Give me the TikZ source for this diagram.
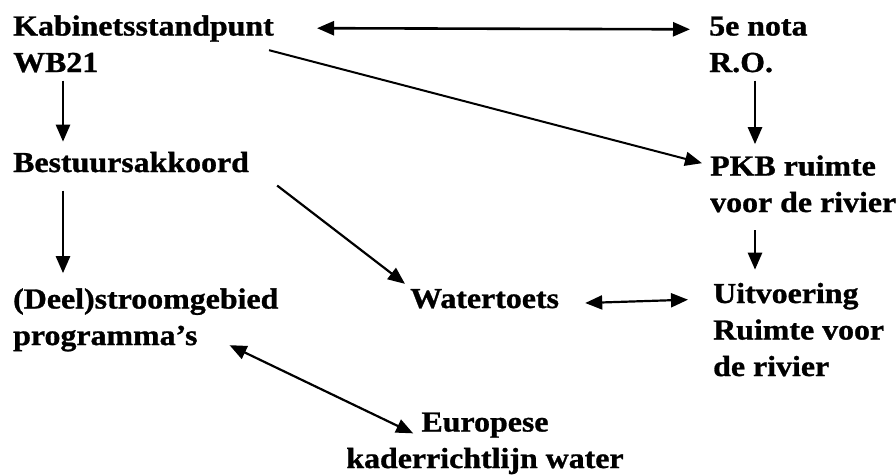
\documentclass[tikz,border=0pt]{standalone}
\usepackage{fontspec}
\setmainfont{Liberation Serif}[FakeStretch=1.1,BoldFeatures={FakeBold=1}]
\usetikzlibrary{arrows.meta}
\begin{document}
\begin{tikzpicture}[x=1pt,y=-1pt,
  lbl/.style={inner sep=0pt,align=left,font=\fontsize{29}{36.5}\selectfont\bfseries},
  arr/.style={line width=2.6pt,-{Triangle[length=17pt,width=14pt]}},
  darr/.style={line width=2.6pt,{Triangle[length=17pt,width=14pt]}-{Triangle[length=17pt,width=14pt]}}]
\useasboundingbox (0,0) rectangle (896,475);
\node[lbl,anchor=base west] (kab) at (13,72) {Kabinetsstandpunt\\WB21};
\node[lbl,anchor=base west] (nota) at (709,72) {5e nota\\R.O.};
\node[lbl,anchor=base west] (best) at (13,172) {Bestuursakkoord};
\node[lbl,anchor=base west] (pkb) at (710,212) {PKB ruimte\\voor de rivier};
\node[lbl,anchor=base west] (deel) at (13,345) {(Deel)stroomgebied\\programma’s};
\node[lbl,anchor=base west] (water) at (410,308) {Watertoets};
\node[lbl,anchor=base west] (uit) at (713,376) {Uitvoering\\Ruimte voor\\de rivier};
\node[lbl,align=center,anchor=base] (eur) at (485,468) {Europese\\kaderrichtlijn water};

\draw[darr] ([xshift=43pt,yshift=-13pt]kab.north east) -- ([xshift=-19pt,yshift=-13pt]nota.north west);
\draw[arr,line width=2pt] ([xshift=-5pt,yshift=-35pt]kab.north east) -- ([xshift=-8pt,yshift=-8pt]pkb.north west);
\draw[arr] ([xshift=50pt,yshift=-8pt]kab.south west) -- ([xshift=50pt,yshift=10pt]best.north west);
\draw[arr] ([xshift=46pt,yshift=-8pt]nota.south west) -- ([xshift=45pt,yshift=11pt]pkb.north west);
\draw[arr] ([xshift=50pt,yshift=-18pt]best.south west) -- ([xshift=50pt,yshift=15pt]deel.north west);
\draw[arr,line width=2.2pt] ([xshift=28pt,yshift=-13pt]best.south east) -- ([xshift=-5pt,yshift=5pt]water.north west);
\draw[arr] ([xshift=45pt,yshift=-18pt]pkb.south west) -- ([xshift=42pt,yshift=13pt]uit.north west);
\draw[darr,line width=2.2pt] ([xshift=26pt,yshift=5pt]water.base east) -- ([xshift=-25pt,yshift=-17pt]uit.north west);
\draw[darr,line width=2.2pt] ([xshift=-49pt,yshift=-57pt]deel.north east) -- ([xshift=67pt,yshift=10pt]eur.west);
\end{tikzpicture}
\end{document}
